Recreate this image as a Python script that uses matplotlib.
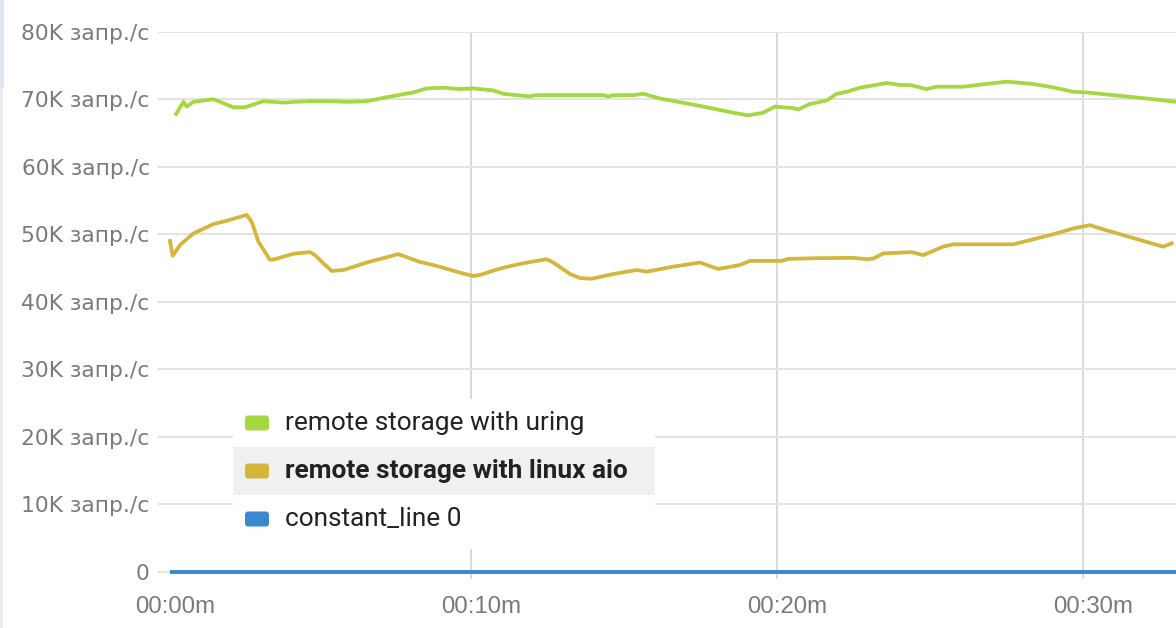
import numpy as np
import matplotlib
matplotlib.use('Agg')
from matplotlib import pyplot as plt
from matplotlib import transforms
from matplotlib.patches import Rectangle, FancyBboxPatch

# time in minutes, values in thousands of requests per second
uring_t = [0.36, 0.60, 0.71, 0.92, 1.58, 1.80, 2.23, 2.61, 3.21, 3.87, 4.19, 4.74,
           5.50, 5.94, 6.59, 7.25, 8.11, 8.55, 9.09, 9.64, 10.08, 10.29, 10.73, 11.06,
           11.49, 11.93, 12.09, 14.32, 14.49, 14.65, 15.30, 15.63, 16.18, 17.38, 18.57,
           19.06, 19.55, 19.93, 20.48, 20.70, 21.08, 21.62, 21.95, 22.28, 22.71, 23.59,
           24.02, 24.35, 24.89, 25.22, 26.09, 26.63, 27.51, 28.38, 29.03, 29.68, 30.12,
           31.21, 32.30, 33.04, 33.20]
uring_v = [67.8, 69.6, 68.9, 69.6, 70.0, 69.6, 68.8, 68.8, 69.7, 69.5, 69.6, 69.7,
           69.7, 69.6, 69.7, 70.3, 71.0, 71.6, 71.7, 71.5, 71.6, 71.5, 71.3, 70.8,
           70.6, 70.4, 70.6, 70.6, 70.4, 70.6, 70.6, 70.8, 70.1, 69.1, 68.0,
           67.6, 68.0, 68.9, 68.7, 68.5, 69.3, 69.8, 70.8, 71.1, 71.7, 72.4,
           72.1, 72.1, 71.5, 71.85, 71.85, 72.15, 72.6, 72.25, 71.75, 71.1, 71.0,
           70.5, 70.0, 69.6, 69.55]

aio_t = [0.16, 0.25, 0.49, 0.92, 1.58, 2.02, 2.67, 2.83, 3.05, 3.43, 3.59, 4.19,
         4.74, 4.90, 5.17, 5.45, 5.83, 6.59, 7.62, 8.33, 8.88, 9.64, 10.08, 10.29,
         10.73, 11.11, 11.71, 12.47, 12.69, 13.24, 13.56, 13.94, 14.65, 15.42, 15.74,
         16.61, 17.48, 18.08, 18.79, 19.12, 20.15, 20.37, 21.41, 22.49, 22.93, 23.15,
         23.47, 24.40, 24.78, 25.43, 25.76, 27.72, 28.38, 29.03, 29.68, 30.23, 30.45,
         31.21, 31.86, 32.62, 32.90]
aio_v = [49.0, 46.8, 48.4, 50.1, 51.5, 52.0, 52.85, 51.85, 48.9, 46.2, 46.3, 47.1,
         47.35, 46.9, 45.7, 44.55, 44.7, 45.8, 47.05, 45.9, 45.3, 44.3, 43.8, 43.96,
         44.6, 45.1, 45.7, 46.3, 45.8, 44.1, 43.5, 43.4, 44.1, 44.7, 44.45,
         45.2, 45.8, 44.85, 45.45, 46.05, 46.05, 46.35, 46.45, 46.5, 46.3, 46.4,
         47.15, 47.35, 46.9, 48.15, 48.5, 48.5, 49.25, 50.0, 50.85, 51.35, 51.0,
         50.0, 49.15, 48.15, 48.65]

const_t = [0.16, 33.4]
const_v = [0, 0]

y_ticks = [0, 10, 20, 30, 40, 50, 60, 70, 80]
y_labels = ['0'] + [f'{k}K запр./с' for k in y_ticks[1:]]
x_ticks = [0, 10, 20, 30]
x_labels = ['00:00m', '00:10m', '00:20m', '00:30m']

names = ['remote storage with uring', 'remote storage with linux aio', 'constant_line 0']
colors = ['#a4d840', '#d5b53b', '#3a89cf']

W, H = 1176, 628
fig = plt.figure(figsize=(W / 100, H / 100), dpi=100)
ax = fig.add_axes([158 / W, 1 - 579 / H, (W - 158) / W, (579 - 31.7) / H])

ax.plot(const_t, np.array(const_v) * 1000, color=colors[2], lw=2.8, zorder=3,
        solid_capstyle='butt')
ax.plot(aio_t, np.array(aio_v) * 1000, color=colors[1], lw=2.7, zorder=4)
ax.plot(uring_t, np.array(uring_v) * 1000, color=colors[0], lw=2.7, zorder=5)

ax.set_xlim(-0.23, 33.04)
ax.set_ylim(-1080, 80000)
ax.set_yticks(np.array(y_ticks) * 1000)
ax.set_yticklabels(y_labels)
ax.set_xticks(x_ticks)
ax.set_xticklabels(x_labels)

for s in ax.spines.values():
    s.set_visible(False)
ax.tick_params(axis='both', length=0)
ax.tick_params(axis='y', pad=6, labelsize=15.7, labelcolor='#7a7a7a')
ax.tick_params(axis='x', pad=12, labelsize=17.3, labelcolor='#7a7a7a')
for lb in ax.get_yticklabels():
    lb.set_family('DejaVu Sans')
shift = transforms.ScaledTranslation(10 / 100, 0, fig.dpi_scale_trans)
for lb in ax.get_xticklabels():
    lb.set_family('Liberation Sans')
    lb.set_transform(lb.get_transform() + shift)

ax.grid(axis='y', color='#e3e3e3', lw=1.4, zorder=0)
ax.grid(axis='x', color='#d9d9d9', lw=1.4, zorder=0)
ax.xaxis.get_gridlines()[0].set_visible(False)
ax.set_axisbelow(True)

# legend panel drawn by hand (pixel coords)
ident = transforms.IdentityTransform()
fig.add_artist(Rectangle((233, H - 549), 422, 150, transform=ident,
                         facecolor='white', edgecolor='none', zorder=10))
fig.add_artist(Rectangle((233, H - 495), 422, 48, transform=ident,
                         facecolor='#f0f0f0', edgecolor='none', zorder=11))
row_y = [423, 471, 519]
for i in range(3):
    fig.add_artist(FancyBboxPatch((245, H - row_y[i] - 7.5), 24, 15, transform=ident,
                                  boxstyle='round,pad=0,rounding_size=3',
                                  facecolor=colors[i], edgecolor='none', zorder=12))
    fig.text(285 / W, 1 - row_y[i] / H, names[i], va='center', ha='left',
             fontsize=18.9, family='Roboto', color='#222222',
             weight='bold' if i == 1 else 'normal', zorder=12)

# thin left border of the panel
fig.add_artist(Rectangle((0, 0), 3, H, transform=ident,
                         facecolor='#ececec', edgecolor='none'))
fig.add_artist(Rectangle((0, H - 88), 4, 88, transform=ident,
                         facecolor='#e2e6f2', edgecolor='none'))

fig.savefig('out.png', dpi=100)
